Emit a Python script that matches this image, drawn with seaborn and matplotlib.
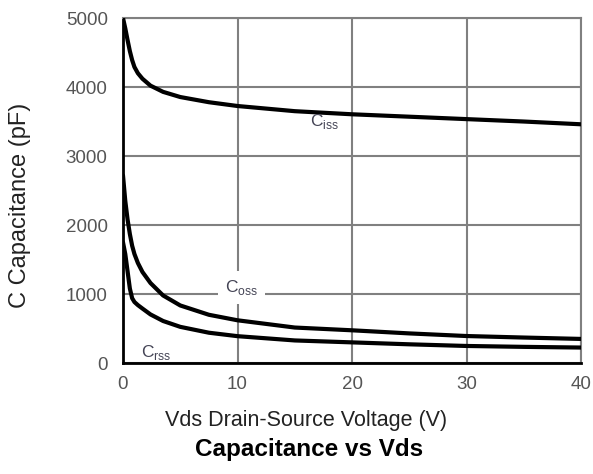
import matplotlib
matplotlib.use("Agg")
import matplotlib.pyplot as plt
import seaborn as sns
import pandas as pd

# Capacitance vs Vds
vds = [0, 0.2, 0.4, 0.6, 0.8, 1.0, 1.3, 1.7, 2.4, 3.5, 5, 7.5, 10, 15, 20, 25, 30, 35, 40]
ciss = [5000, 4850, 4680, 4520, 4390, 4290, 4200, 4120, 4020, 3930, 3855, 3780, 3725,
        3650, 3605, 3570, 3535, 3500, 3460]
coss = [2720, 2350, 2080, 1870, 1700, 1580, 1450, 1320, 1160, 980, 835, 700, 620,
        515, 475, 430, 392, 370, 350]
crss = [1750, 1580, 1330, 1080, 940, 885, 840, 790, 705, 610, 525, 440, 390,
        328, 300, 272, 248, 235, 225]

series_names = ["Ciss", "Coss", "Crss"]
x_ticks = [0, 10, 20, 30, 40]
y_ticks = [0, 1000, 2000, 3000, 4000, 5000]

df = pd.concat([
    pd.DataFrame({"Vds": vds, "C": vals, "series": name})
    for name, vals in zip(series_names, [ciss, coss, crss])
])

sns.set_style("white")
plt.rcParams["font.family"] = ["Liberation Sans", "DejaVu Sans"]

fig = plt.figure(figsize=(5.93, 4.74), dpi=100)
ax = fig.add_axes([0.2074, 0.234, 0.7726, 0.728])

sns.lineplot(data=df, x="Vds", y="C", units="series", estimator=None,
             color="black", linewidth=3, ax=ax, legend=False, zorder=3)

ax.set_xlim(0, 40)
ax.set_ylim(0, 5000)
ax.set_xticks(x_ticks)
ax.set_yticks(y_ticks)
ax.grid(True, color="#808080", linewidth=1.5)
ax.set_axisbelow(True)
for side in ["top", "right"]:
    ax.spines[side].set_color("#808080")
    ax.spines[side].set_linewidth(1.5)
for side in ["left", "bottom"]:
    ax.spines[side].set_color("black")
    ax.spines[side].set_linewidth(2)

ax.tick_params(axis="both", length=0, labelsize=13.5, labelcolor="#555555")
ax.tick_params(axis="x", pad=9)
ax.tick_params(axis="y", pad=11)

ax.set_xlabel("Vds Drain-Source Voltage (V)", fontsize=15.5, color="#222222")
ax.xaxis.set_label_coords(0.40, -0.135)
ax.set_ylabel("C Capacitance (pF)", fontsize=17, color="#222222")
ax.yaxis.set_label_coords(-0.20, 0.458)
fig.text(0.521, 0.051, "Capacitance vs Vds", ha="center", va="center",
         fontsize=17.5, fontweight="bold", color="black")

lab_col = "#444455"
ax.text(16.3, 3440, r"C$_\mathregular{iss}$", fontsize=12.5, color=lab_col, zorder=4)
ax.text(8.9, 1030, r"C$_\mathregular{oss}$", fontsize=12.5, color=lab_col, zorder=4,
        bbox=dict(facecolor="white", edgecolor="none", pad=5))
ax.text(1.6, 90, r"C$_\mathregular{rss}$", fontsize=12.5, color=lab_col, zorder=4)

fig.savefig("out.png", dpi=100)
